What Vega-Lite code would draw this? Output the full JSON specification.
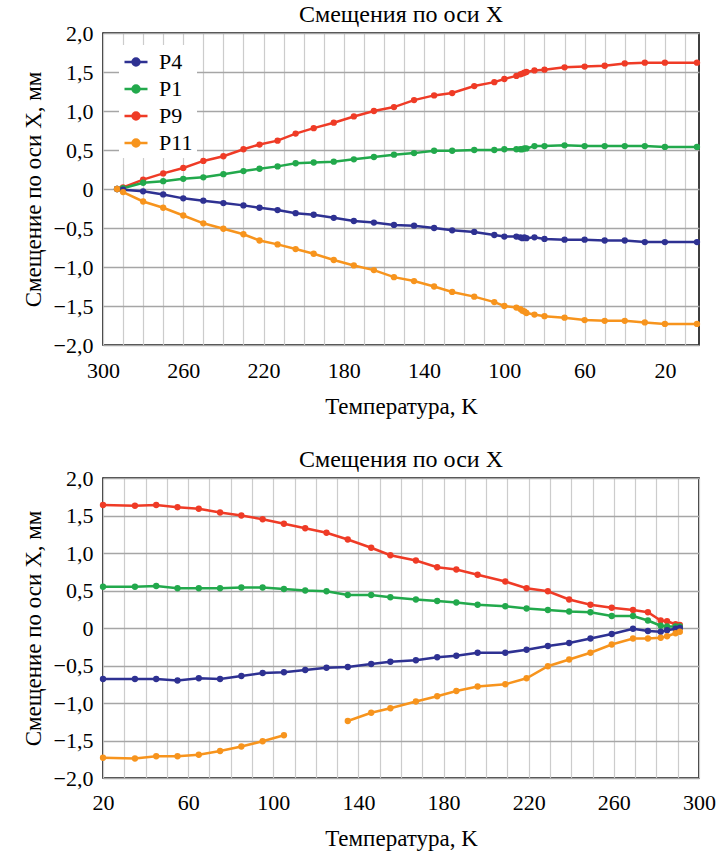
{
 "$schema": "https://vega.github.io/schema/vega-lite/v6.json",
 "background": "white",
 "padding": {"left": 21, "top": 2, "right": 10, "bottom": 0},
 "config": {
  "view": {"stroke": "black", "strokeWidth": 1.5},
  "font": "Liberation Serif",
  "title": {"font": "Liberation Serif", "fontSize": 24, "fontWeight": "normal", "color": "black", "offset": -5},
  "axis": {"labelFont": "Liberation Serif", "labelFontSize": 22, "labelColor": "black", "titleFont": "Liberation Serif", "titleFontSize": 23, "titleFontWeight": "normal", "titleColor": "black", "ticks": false, "domain": false, "labelFlush": false, "labelOverlap": false, "labelBound": false},
  "legend": {"labelFont": "Liberation Serif", "labelFontSize": 22, "labelColor": "black", "title": null}
 },
 "datasets": {
  "cool": [
   {"s":"P9","T":293,"v":0},{"s":"P9","T":290,"v":0.02},{"s":"P9","T":280,"v":0.12},{"s":"P9","T":270,"v":0.2},{"s":"P9","T":260,"v":0.27},{"s":"P9","T":250,"v":0.36},{"s":"P9","T":240,"v":0.42},{"s":"P9","T":230,"v":0.51},{"s":"P9","T":222,"v":0.57},{"s":"P9","T":213,"v":0.62},{"s":"P9","T":204,"v":0.71},{"s":"P9","T":195,"v":0.78},{"s":"P9","T":185,"v":0.85},{"s":"P9","T":175,"v":0.93},{"s":"P9","T":165,"v":1.0},{"s":"P9","T":155,"v":1.05},{"s":"P9","T":145,"v":1.14},{"s":"P9","T":135,"v":1.2},{"s":"P9","T":126,"v":1.23},{"s":"P9","T":115,"v":1.32},{"s":"P9","T":105,"v":1.37},{"s":"P9","T":100,"v":1.41},{"s":"P9","T":94,"v":1.45},{"s":"P9","T":92,"v":1.47},{"s":"P9","T":91,"v":1.48},{"s":"P9","T":90,"v":1.49},{"s":"P9","T":89,"v":1.5},{"s":"P9","T":85,"v":1.52},{"s":"P9","T":80,"v":1.53},{"s":"P9","T":70,"v":1.56},{"s":"P9","T":60,"v":1.57},{"s":"P9","T":50,"v":1.58},{"s":"P9","T":40,"v":1.61},{"s":"P9","T":30,"v":1.62},{"s":"P9","T":20,"v":1.62},{"s":"P9","T":4,"v":1.62},
   {"s":"P1","T":293,"v":0},{"s":"P1","T":290,"v":0.01},{"s":"P1","T":280,"v":0.08},{"s":"P1","T":270,"v":0.1},{"s":"P1","T":260,"v":0.13},{"s":"P1","T":250,"v":0.15},{"s":"P1","T":240,"v":0.19},{"s":"P1","T":230,"v":0.23},{"s":"P1","T":222,"v":0.26},{"s":"P1","T":213,"v":0.29},{"s":"P1","T":204,"v":0.33},{"s":"P1","T":195,"v":0.34},{"s":"P1","T":185,"v":0.35},{"s":"P1","T":175,"v":0.38},{"s":"P1","T":165,"v":0.41},{"s":"P1","T":155,"v":0.44},{"s":"P1","T":145,"v":0.46},{"s":"P1","T":135,"v":0.49},{"s":"P1","T":126,"v":0.49},{"s":"P1","T":115,"v":0.5},{"s":"P1","T":105,"v":0.5},{"s":"P1","T":100,"v":0.51},{"s":"P1","T":94,"v":0.51},{"s":"P1","T":92,"v":0.51},{"s":"P1","T":91,"v":0.51},{"s":"P1","T":90,"v":0.52},{"s":"P1","T":89,"v":0.52},{"s":"P1","T":85,"v":0.55},{"s":"P1","T":80,"v":0.55},{"s":"P1","T":70,"v":0.56},{"s":"P1","T":60,"v":0.55},{"s":"P1","T":50,"v":0.55},{"s":"P1","T":40,"v":0.55},{"s":"P1","T":30,"v":0.55},{"s":"P1","T":20,"v":0.54},{"s":"P1","T":4,"v":0.54},
   {"s":"P4","T":293,"v":0},{"s":"P4","T":290,"v":-0.01},{"s":"P4","T":280,"v":-0.03},{"s":"P4","T":270,"v":-0.07},{"s":"P4","T":260,"v":-0.12},{"s":"P4","T":250,"v":-0.15},{"s":"P4","T":240,"v":-0.18},{"s":"P4","T":230,"v":-0.21},{"s":"P4","T":222,"v":-0.24},{"s":"P4","T":213,"v":-0.27},{"s":"P4","T":204,"v":-0.31},{"s":"P4","T":195,"v":-0.33},{"s":"P4","T":185,"v":-0.37},{"s":"P4","T":175,"v":-0.41},{"s":"P4","T":165,"v":-0.43},{"s":"P4","T":155,"v":-0.46},{"s":"P4","T":145,"v":-0.47},{"s":"P4","T":135,"v":-0.5},{"s":"P4","T":126,"v":-0.53},{"s":"P4","T":115,"v":-0.55},{"s":"P4","T":105,"v":-0.59},{"s":"P4","T":100,"v":-0.61},{"s":"P4","T":94,"v":-0.61},{"s":"P4","T":92,"v":-0.62},{"s":"P4","T":91,"v":-0.63},{"s":"P4","T":90,"v":-0.62},{"s":"P4","T":89,"v":-0.63},{"s":"P4","T":85,"v":-0.62},{"s":"P4","T":80,"v":-0.64},{"s":"P4","T":70,"v":-0.65},{"s":"P4","T":60,"v":-0.65},{"s":"P4","T":50,"v":-0.66},{"s":"P4","T":40,"v":-0.66},{"s":"P4","T":30,"v":-0.68},{"s":"P4","T":20,"v":-0.68},{"s":"P4","T":4,"v":-0.68},
   {"s":"P11","T":293,"v":0},{"s":"P11","T":290,"v":-0.04},{"s":"P11","T":280,"v":-0.16},{"s":"P11","T":270,"v":-0.24},{"s":"P11","T":260,"v":-0.34},{"s":"P11","T":250,"v":-0.44},{"s":"P11","T":240,"v":-0.51},{"s":"P11","T":230,"v":-0.58},{"s":"P11","T":222,"v":-0.66},{"s":"P11","T":213,"v":-0.71},{"s":"P11","T":204,"v":-0.77},{"s":"P11","T":195,"v":-0.83},{"s":"P11","T":185,"v":-0.91},{"s":"P11","T":175,"v":-0.98},{"s":"P11","T":165,"v":-1.04},{"s":"P11","T":155,"v":-1.13},{"s":"P11","T":145,"v":-1.18},{"s":"P11","T":135,"v":-1.25},{"s":"P11","T":126,"v":-1.32},{"s":"P11","T":115,"v":-1.38},{"s":"P11","T":105,"v":-1.45},{"s":"P11","T":100,"v":-1.5},{"s":"P11","T":94,"v":-1.52},{"s":"P11","T":92,"v":-1.54},{"s":"P11","T":91,"v":-1.56},{"s":"P11","T":90,"v":-1.57},{"s":"P11","T":89,"v":-1.59},{"s":"P11","T":85,"v":-1.61},{"s":"P11","T":80,"v":-1.63},{"s":"P11","T":70,"v":-1.65},{"s":"P11","T":60,"v":-1.68},{"s":"P11","T":50,"v":-1.69},{"s":"P11","T":40,"v":-1.69},{"s":"P11","T":30,"v":-1.71},{"s":"P11","T":20,"v":-1.73},{"s":"P11","T":4,"v":-1.73}
  ],
  "heat": [
   {"s":"P9","g":"a","T":20,"v":1.64},{"s":"P9","g":"a","T":35,"v":1.63},{"s":"P9","g":"a","T":45,"v":1.64},{"s":"P9","g":"a","T":55,"v":1.61},{"s":"P9","g":"a","T":65,"v":1.59},{"s":"P9","g":"a","T":75,"v":1.54},{"s":"P9","g":"a","T":85,"v":1.5},{"s":"P9","g":"a","T":95,"v":1.45},{"s":"P9","g":"a","T":105,"v":1.39},{"s":"P9","g":"a","T":115,"v":1.33},{"s":"P9","g":"a","T":125,"v":1.27},{"s":"P9","g":"a","T":135,"v":1.18},{"s":"P9","g":"a","T":146,"v":1.07},{"s":"P9","g":"a","T":155,"v":0.97},{"s":"P9","g":"a","T":167,"v":0.9},{"s":"P9","g":"a","T":177,"v":0.81},{"s":"P9","g":"a","T":186,"v":0.78},{"s":"P9","g":"a","T":196,"v":0.71},{"s":"P9","g":"a","T":209,"v":0.62},{"s":"P9","g":"a","T":219,"v":0.53},{"s":"P9","g":"a","T":229,"v":0.49},{"s":"P9","g":"a","T":239,"v":0.38},{"s":"P9","g":"a","T":249,"v":0.31},{"s":"P9","g":"a","T":259,"v":0.27},{"s":"P9","g":"a","T":269,"v":0.24},{"s":"P9","g":"a","T":276,"v":0.21},{"s":"P9","g":"a","T":282,"v":0.1},{"s":"P9","g":"a","T":285,"v":0.09},{"s":"P9","g":"a","T":289,"v":0.05},{"s":"P9","g":"a","T":291,"v":0.04},
   {"s":"P1","g":"a","T":20,"v":0.55},{"s":"P1","g":"a","T":35,"v":0.55},{"s":"P1","g":"a","T":45,"v":0.56},{"s":"P1","g":"a","T":55,"v":0.53},{"s":"P1","g":"a","T":65,"v":0.53},{"s":"P1","g":"a","T":75,"v":0.53},{"s":"P1","g":"a","T":85,"v":0.54},{"s":"P1","g":"a","T":95,"v":0.54},{"s":"P1","g":"a","T":105,"v":0.52},{"s":"P1","g":"a","T":115,"v":0.5},{"s":"P1","g":"a","T":125,"v":0.49},{"s":"P1","g":"a","T":135,"v":0.44},{"s":"P1","g":"a","T":146,"v":0.44},{"s":"P1","g":"a","T":155,"v":0.41},{"s":"P1","g":"a","T":167,"v":0.38},{"s":"P1","g":"a","T":177,"v":0.36},{"s":"P1","g":"a","T":186,"v":0.34},{"s":"P1","g":"a","T":196,"v":0.31},{"s":"P1","g":"a","T":209,"v":0.29},{"s":"P1","g":"a","T":219,"v":0.26},{"s":"P1","g":"a","T":229,"v":0.24},{"s":"P1","g":"a","T":239,"v":0.22},{"s":"P1","g":"a","T":249,"v":0.21},{"s":"P1","g":"a","T":259,"v":0.16},{"s":"P1","g":"a","T":269,"v":0.16},{"s":"P1","g":"a","T":276,"v":0.1},{"s":"P1","g":"a","T":282,"v":0.03},{"s":"P1","g":"a","T":285,"v":0.02},{"s":"P1","g":"a","T":289,"v":0.02},{"s":"P1","g":"a","T":291,"v":0.02},
   {"s":"P4","g":"a","T":20,"v":-0.68},{"s":"P4","g":"a","T":35,"v":-0.68},{"s":"P4","g":"a","T":45,"v":-0.68},{"s":"P4","g":"a","T":55,"v":-0.7},{"s":"P4","g":"a","T":65,"v":-0.67},{"s":"P4","g":"a","T":75,"v":-0.68},{"s":"P4","g":"a","T":85,"v":-0.64},{"s":"P4","g":"a","T":95,"v":-0.6},{"s":"P4","g":"a","T":105,"v":-0.59},{"s":"P4","g":"a","T":115,"v":-0.56},{"s":"P4","g":"a","T":125,"v":-0.53},{"s":"P4","g":"a","T":135,"v":-0.52},{"s":"P4","g":"a","T":146,"v":-0.48},{"s":"P4","g":"a","T":155,"v":-0.45},{"s":"P4","g":"a","T":167,"v":-0.43},{"s":"P4","g":"a","T":177,"v":-0.39},{"s":"P4","g":"a","T":186,"v":-0.37},{"s":"P4","g":"a","T":196,"v":-0.33},{"s":"P4","g":"a","T":209,"v":-0.33},{"s":"P4","g":"a","T":219,"v":-0.29},{"s":"P4","g":"a","T":229,"v":-0.24},{"s":"P4","g":"a","T":239,"v":-0.2},{"s":"P4","g":"a","T":249,"v":-0.14},{"s":"P4","g":"a","T":259,"v":-0.08},{"s":"P4","g":"a","T":269,"v":-0.01},{"s":"P4","g":"a","T":276,"v":-0.04},{"s":"P4","g":"a","T":282,"v":-0.05},{"s":"P4","g":"a","T":285,"v":-0.03},{"s":"P4","g":"a","T":289,"v":-0.01},{"s":"P4","g":"a","T":291,"v":0.0},
   {"s":"P11","g":"a","T":20,"v":-1.73},{"s":"P11","g":"a","T":35,"v":-1.74},{"s":"P11","g":"a","T":45,"v":-1.71},{"s":"P11","g":"a","T":55,"v":-1.71},{"s":"P11","g":"a","T":65,"v":-1.69},{"s":"P11","g":"a","T":75,"v":-1.64},{"s":"P11","g":"a","T":85,"v":-1.58},{"s":"P11","g":"a","T":95,"v":-1.51},{"s":"P11","g":"a","T":105,"v":-1.43},{"s":"P11","g":"b","T":135,"v":-1.24},{"s":"P11","g":"b","T":146,"v":-1.13},{"s":"P11","g":"b","T":155,"v":-1.07},{"s":"P11","g":"b","T":167,"v":-0.98},{"s":"P11","g":"b","T":177,"v":-0.91},{"s":"P11","g":"b","T":186,"v":-0.84},{"s":"P11","g":"b","T":196,"v":-0.78},{"s":"P11","g":"b","T":209,"v":-0.75},{"s":"P11","g":"b","T":219,"v":-0.67},{"s":"P11","g":"b","T":229,"v":-0.51},{"s":"P11","g":"b","T":239,"v":-0.42},{"s":"P11","g":"b","T":249,"v":-0.33},{"s":"P11","g":"b","T":259,"v":-0.22},{"s":"P11","g":"b","T":269,"v":-0.14},{"s":"P11","g":"b","T":276,"v":-0.14},{"s":"P11","g":"b","T":282,"v":-0.13},{"s":"P11","g":"b","T":285,"v":-0.11},{"s":"P11","g":"b","T":289,"v":-0.07},{"s":"P11","g":"b","T":291,"v":-0.05}
  ]
 },
 "spacing": 28,
 "resolve": {"legend": {"color": "independent"}},
 "vconcat": [
  {
   "width": 596, "height": 312,
   "title": {"text": "Смещения по оси X", "font": "Liberation Serif", "fontSize": 24, "fontWeight": "normal", "offset": -5},
   "data": {"name": "cool"},
   "encoding": {
    "x": {"field": "T", "type": "quantitative", "scale": {"domain": [3, 300], "reverse": true, "nice": false, "zero": false},
     "axis": {"title": "Температура, K", "labelFont": "Liberation Serif", "titleFont": "Liberation Serif", "labelFontSize": 22, "titleFontSize": 23, "values": [10,20,30,40,50,60,70,80,90,100,110,120,130,140,150,160,170,180,190,200,210,220,230,240,250,260,270,280,290,300], "labelExpr": "(datum.value - 20) % 40 == 0 ? datum.value : ''", "grid": true, "gridColor": "#cccccc", "gridWidth": 1.2, "labelPadding": 15, "titlePadding": 14}},
    "y": {"field": "v", "type": "quantitative", "scale": {"domain": [-2, 2], "nice": false},
     "axis": {"title": "Смещение по оси X, мм", "labelFont": "Liberation Serif", "titleFont": "Liberation Serif", "labelFontSize": 22, "titleFontSize": 23, "values": [-2,-1.5,-1,-0.5,0,0.5,1,1.5,2], "labelExpr": "datum.value == 0 ? '0' : replace(format(datum.value, '.1f'), '.', ',')", "grid": true, "gridColor": "#a6a6a6", "gridWidth": 1.5, "labelPadding": 10, "titlePadding": 8}},
    "color": {"field": "s", "type": "nominal", "scale": {"domain": ["P4","P1","P9","P11"], "range": ["#2e3192","#22a94c","#ef3b26","#f7941d"]},
     "legend": {"orient": "none", "legendX": 16, "legendY": 12, "padding": 4, "fillColor": "white", "labelFont": "Liberation Serif", "symbolType": "M-1,0L1,0M-0.3,0A0.3,0.3 0 1,0 0.3,0A0.3,0.3 0 1,0 -0.3,0Z", "symbolSize": 529, "symbolStrokeWidth": 2.5, "labelOffset": 10, "rowPadding": 3,
      "encode": {"symbols": {"update": {"fill": {"scale": "color", "field": "value"}, "stroke": {"scale": "color", "field": "value"}, "opacity": {"value": 1}}}}}}
   },
   "layer": [
    {"mark": {"type": "line", "strokeWidth": 2.5}},
    {"mark": {"type": "point", "filled": true, "size": 40, "opacity": 1}}
   ]
  },
  {
   "width": 596, "height": 300,
   "title": {"text": "Смещения по оси X", "font": "Liberation Serif", "fontSize": 24, "fontWeight": "normal", "offset": -5},
   "data": {"name": "heat"},
   "encoding": {
    "x": {"field": "T", "type": "quantitative", "scale": {"domain": [20, 300], "nice": false, "zero": false},
     "axis": {"title": "Температура, K", "labelFont": "Liberation Serif", "titleFont": "Liberation Serif", "labelFontSize": 22, "titleFontSize": 23, "values": [20,30,40,50,60,70,80,90,100,110,120,130,140,150,160,170,180,190,200,210,220,230,240,250,260,270,280,290,300], "labelExpr": "(datum.value - 20) % 40 == 0 ? datum.value : ''", "grid": true, "gridColor": "#cccccc", "gridWidth": 1.2, "labelPadding": 14, "titlePadding": 14}},
    "y": {"field": "v", "type": "quantitative", "scale": {"domain": [-2, 2], "nice": false},
     "axis": {"title": "Смещение по оси X, мм", "labelFont": "Liberation Serif", "titleFont": "Liberation Serif", "labelFontSize": 22, "titleFontSize": 23, "values": [-2,-1.5,-1,-0.5,0,0.5,1,1.5,2], "labelExpr": "datum.value == 0 ? '0' : replace(format(datum.value, '.1f'), '.', ',')", "grid": true, "gridColor": "#a6a6a6", "gridWidth": 1.5, "labelPadding": 10, "titlePadding": 8}},
    "color": {"field": "s", "type": "nominal", "scale": {"domain": ["P4","P1","P9","P11"], "range": ["#2e3192","#22a94c","#ef3b26","#f7941d"]}, "legend": null},
    "detail": {"field": "g", "type": "nominal"}
   },
   "layer": [
    {"mark": {"type": "line", "strokeWidth": 2.5}},
    {"mark": {"type": "point", "filled": true, "size": 40, "opacity": 1}}
   ]
  }
 ]
}
